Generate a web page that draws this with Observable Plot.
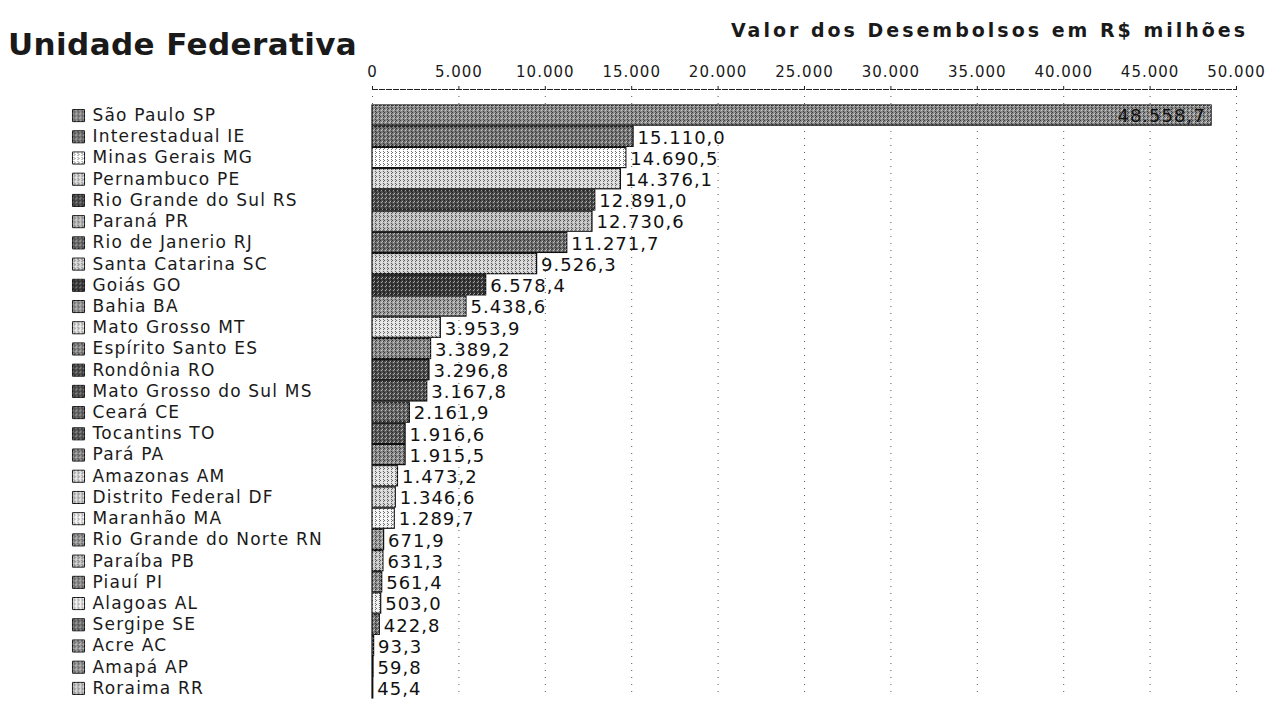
<!DOCTYPE html>
<html>
<head>
<meta charset="utf-8">
<script src="https://cdn.jsdelivr.net/npm/d3@7"></script>
<script src="https://cdn.jsdelivr.net/npm/@observablehq/plot@0.6"></script>
<style>
  html, body { margin: 0; padding: 0; background: #fff; }
  #wrap { position: relative; width: 1268px; height: 709px; overflow: hidden; font-family: "DejaVu Sans", sans-serif; color: #1a1a1a; }
  #t1 { position: absolute; left: 8px; top: 26px; font-size: 31px; font-weight: bold; letter-spacing: 0.4px; }
  #t2 { position: absolute; right: 20px; top: 19px; font-size: 19px; font-weight: bold; letter-spacing: 3px; }
  #main { position: absolute; left: 0; top: 0; }
  #main svg text { letter-spacing: 1px; }
  #main svg g.leg text { letter-spacing: 1.2px; }
</style>
</head>
<body>
<div id="wrap">
  <div id="main"></div>
  <div id="t1">Unidade Federativa</div>
  <div id="t2">Valor dos Desembolsos em R$ milhões</div>
</div>
<script>
// ---- data ----
const ufs = ["São Paulo SP", "Interestadual IE", "Minas Gerais MG", "Pernambuco PE", "Rio Grande do Sul RS", "Paraná PR", "Rio de Janerio RJ", "Santa Catarina SC", "Goiás GO", "Bahia BA", "Mato Grosso MT", "Espírito Santo ES", "Rondônia RO", "Mato Grosso do Sul MS", "Ceará CE", "Tocantins TO", "Pará PA", "Amazonas AM", "Distrito Federal DF", "Maranhão MA", "Rio Grande do Norte RN", "Paraíba PB", "Piauí PI", "Alagoas AL", "Sergipe SE", "Acre AC", "Amapá AP", "Roraima RR"];
const valores = [48558.7, 15110.0, 14690.5, 14376.1, 12891.0, 12730.6, 11271.7, 9526.3, 6578.4, 5438.6, 3953.9, 3389.2, 3296.8, 3167.8, 2161.9, 1916.6, 1915.5, 1473.2, 1346.6, 1289.7, 671.9, 631.3, 561.4, 503.0, 422.8, 93.3, 59.8, 45.4];
const xTicks = [0, 5000, 10000, 15000, 20000, 25000, 30000, 35000, 40000, 45000, 50000];

// ---- style (gray tone of each bar, in row order) ----
const tons = ["#8c8c8c", "#787878", "#ffffff", "#d9d9d9", "#4f4f4f", "#bcbcbc", "#6e6e6e", "#d4d4d4", "#3c3c3c", "#9c9c9c", "#e4e4e4", "#8a8a8a", "#505050", "#555555", "#6a6a6a", "#5c5c5c", "#8a8a8a", "#e2e2e2", "#d5d5d5", "#f4f4f4", "#9a9a9a", "#c4c4c4", "#8e8e8e", "#eeeeee", "#777777", "#999999", "#999999", "#cccccc"];

const rows = ufs.map((uf, i) => ({uf, valor: valores[i]}));

function fmtBR(v, dec) {
  const s = v.toFixed(dec);
  let [ip, fp] = s.split(".");
  ip = ip.replace(/\B(?=(\d{3})+(?!\d))/g, ".");
  return fp !== undefined ? ip + "," + fp : ip;
}

const main = Plot.plot({
  width: 1268,
  height: 709,
  marginLeft: 372,
  marginRight: 32,
  marginTop: 89,
  marginBottom: 11,
  style: {fontFamily: "DejaVu Sans, sans-serif", fontSize: "15px", color: "#1a1a1a", background: "transparent"},
  x: {domain: [0, 50000]},
  y: {domain: ufs, paddingInner: 0.05, paddingOuter: 0, insetTop: 16, round: false, axis: null},
  color: {type: "ordinal", domain: ufs, range: tons},
  marks: [
    Plot.gridX(xTicks, {stroke: "#222", strokeOpacity: 0.75, strokeDasharray: "1,6"}),
    Plot.frame({anchor: "top", stroke: "#222", strokeDasharray: "5,2", strokeWidth: 1}),
    Plot.axisX(xTicks, {anchor: "top", tickSize: 4, tickPadding: 9, fontSize: 15, tickFormat: d => fmtBR(d, 0), label: null, stroke: "#222"}),
    Plot.barX(rows, {x: "valor", y: "uf", fill: "uf", stroke: "#111", strokeWidth: 1.2}),
    Plot.barX(rows, {x: "valor", y: "uf", fill: "url(#grain)", fillOpacity: 0.55}),
    Plot.text(rows.filter(d => d.valor < 40000), {x: "valor", y: "uf", text: d => fmtBR(d.valor, 1), textAnchor: "start", dx: 4, dy: 1, fontSize: 18, fill: "#111"}),
    Plot.text(rows.filter(d => d.valor >= 40000), {x: "valor", y: "uf", text: d => fmtBR(d.valor, 1), textAnchor: "end", dx: -6, dy: 1, fontSize: 18, fill: "#111"}),
    // category list with swatches, on the left
    Plot.dot(rows, {y: "uf", frameAnchor: "left", dx: -294, symbol: "square", r: 6.8, fill: "uf", stroke: "#111", strokeWidth: 1, className: "leg"}),
    Plot.dot(rows, {y: "uf", frameAnchor: "left", dx: -294, symbol: "square", r: 6.8, fill: "url(#grain)", fillOpacity: 0.5, className: "leg"}),
    Plot.text(rows, {y: "uf", frameAnchor: "left", dx: -280, textAnchor: "start", text: "uf", fontSize: 17, fill: "#1a1a1a", className: "leg"})
  ]
});

// grain texture pattern for the scanned look
const ns = "http://www.w3.org/2000/svg";
const defs = document.createElementNS(ns, "defs");
defs.innerHTML = '<pattern id="grain" width="4" height="4" patternUnits="userSpaceOnUse">' +
  '<rect x="0" y="0" width="1" height="1" fill="#000"/>' +
  '<rect x="2" y="1" width="1" height="1" fill="#fff"/>' +
  '<rect x="1" y="2" width="1" height="1" fill="#fff"/>' +
  '<rect x="3" y="3" width="1" height="1" fill="#000"/>' +
  '<rect x="3" y="1" width="1" height="1" fill="#000"/>' +
  '</pattern>';
main.insertBefore(defs, main.firstChild);
document.getElementById("main").appendChild(main);
</script>
</body>
</html>
